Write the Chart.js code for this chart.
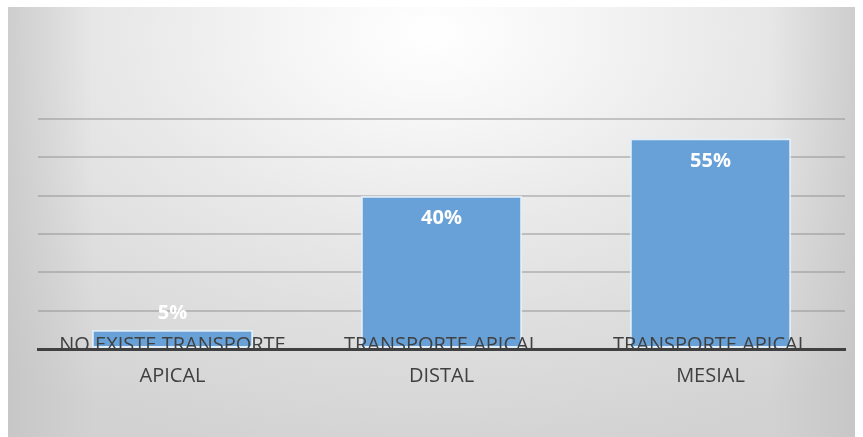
<!DOCTYPE html>
<html>
<head>
<meta charset="utf-8">
<script src="https://cdn.jsdelivr.net/npm/chart.js@4/dist/chart.umd.min.js"></script>
<style>
  html, body { margin: 0; padding: 0; background: #ffffff; }
  #bg { position: absolute; left: 8px; top: 7px; width: 847px; height: 430px;
        background:
          linear-gradient(to right, rgba(190,190,190,0.55) 0%, rgba(200,200,200,0) 10%, rgba(200,200,200,0) 90%, rgba(190,190,190,0.55) 100%),
          radial-gradient(ellipse 80% 100% at 50% 6%, #ffffff 0%, #f6f6f6 20%, #e9e9e9 45%, #dedede 70%, #d2d2d2 100%); }
  #wrap { position: absolute; left: 0; top: 0; width: 863px; height: 437px; }
</style>
</head>
<body>
<div id="bg"></div>
<div id="wrap"><canvas id="c" width="863" height="437"></canvas></div>
<script>
const categories = [
  ["NO EXISTE TRANSPORTE", "APICAL"],
  ["TRANSPORTE APICAL", "DISTAL"],
  ["TRANSPORTE APICAL", "MESIAL"]
];
const values = [5, 40, 55];
const valueLabels = ["5%", "40%", "55%"];
const yMin = 0;
const yMax = 60;
const yStep = 10;

const valueLabelPlugin = {
  id: 'valueLabels',
  afterDatasetsDraw(chart) {
    const ctx = chart.ctx;
    const meta = chart.getDatasetMeta(0);
    ctx.save();
    ctx.font = 'bold 20px "Open Sans", sans-serif';
    ctx.fillStyle = '#ffffff';
    ctx.textAlign = 'center';
    ctx.textBaseline = 'middle';
    meta.data.forEach((bar, i) => {
      const h = bar.base - bar.y;
      const y = h < 40 ? bar.y - 17 : bar.y + 23;
      ctx.fillText(valueLabels[i], bar.x, y);
    });
    ctx.restore();
  }
};

const categoryLabelPlugin = {
  id: 'categoryLabels',
  afterDraw(chart) {
    const ctx = chart.ctx;
    const xs = chart.scales.x;
    const base = chart.chartArea.bottom;
    ctx.save();
    ctx.font = '20px "Open Sans", sans-serif';
    ctx.fillStyle = '#404040';
    ctx.textAlign = 'center';
    ctx.textBaseline = 'middle';
    categories.forEach((lines, i) => {
      const x = xs.getPixelForTick(i);
      lines.forEach((t, j) => ctx.fillText(t, x, base - 4 + j * 31));
    });
    ctx.restore();
  }
};

new Chart(document.getElementById('c'), {
  type: 'bar',
  data: {
    labels: categories,
    datasets: [{
      data: values,
      backgroundColor: '#67a1d7',
      borderColor: 'rgba(225,238,250,0.9)',
      borderWidth: 2,
      borderSkipped: false,
      barPercentage: 0.6,
      categoryPercentage: 1.0
    }]
  },
  options: {
    responsive: false,
    animation: false,
    devicePixelRatio: 1,
    layout: { padding: { left: 38, right: 18, top: 119, bottom: 88 } },
    plugins: { legend: { display: false }, tooltip: { enabled: false } },
    scales: {
      x: {
        grid: { display: false, drawTicks: false },
        border: { display: true, color: '#404040', width: 3 },
        ticks: { display: false }
      },
      y: {
        min: yMin, max: yMax,
        ticks: { display: false, stepSize: yStep },
        border: { display: false },
        grid: {
          drawTicks: false,
          color: (c) => c.tick && c.tick.value === 0 ? 'rgba(0,0,0,0)' : 'rgba(140,140,140,0.45)',
          lineWidth: 2
        }
      }
    }
  },
  plugins: [valueLabelPlugin, categoryLabelPlugin]
});
</script>
</body>
</html>
